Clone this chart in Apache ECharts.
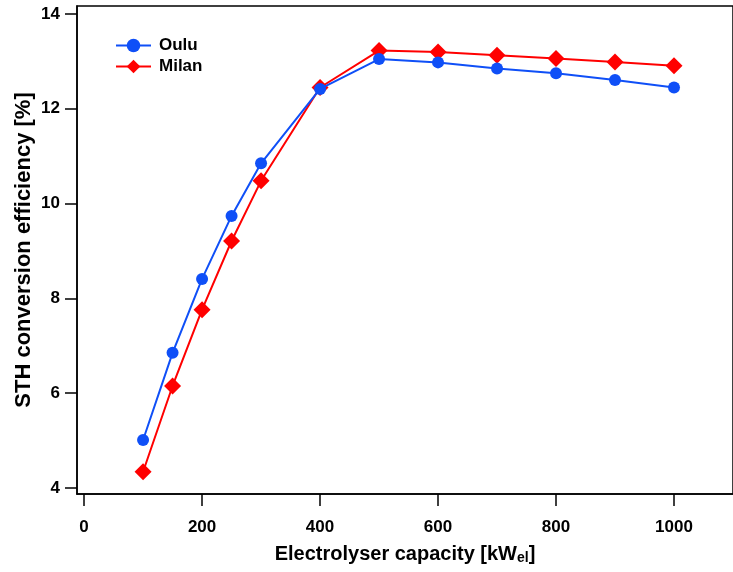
<!DOCTYPE html>
<html><head><meta charset="utf-8">
<script src="https://cdn.jsdelivr.net/npm/echarts@6/dist/echarts.min.js"></script>
<style>html,body{margin:0;padding:0;background:#fff}#c{width:733px;height:572px}</style>
</head><body><div id="c"></div>
<script>
const capacity = [100, 150, 200, 250, 300, 400, 500, 600, 700, 800, 900, 1000];
const oulu = [5.01, 6.85, 8.41, 9.74, 10.85, 12.42, 13.05, 12.98, 12.85, 12.75, 12.61, 12.45];
const milan = [4.34, 6.15, 7.76, 9.21, 10.48, 12.45, 13.23, 13.20, 13.13, 13.06, 12.99, 12.91];
const xTicks = [0, 200, 400, 600, 800, 1000];
const yTicks = [4, 6, 8, 10, 12, 14];

const font = '"Liberation Sans", Arial, sans-serif';
const chart = echarts.init(document.getElementById('c'));
chart.setOption({
  animation: false,
  grid: { left: 77, top: 6, right: -5, bottom: 78, show: true, borderColor: '#000', borderWidth: 1.5, backgroundColor: 'transparent' },
  legend: {
    left: 110, top: 32, orient: 'vertical', itemWidth: 35, itemHeight: 17, itemGap: 4,
    textStyle: { fontFamily: font, fontWeight: 'bold', fontSize: 17, color: '#000', padding: [0, 0, 0, 3] },
    data: ['Oulu', 'Milan']
  },
  xAxis: {
    type: 'value', min: -12, max: 1100,
    name: 'Electrolyser capacity [kW{sub|el}]', nameLocation: 'middle', nameGap: 49,
    nameTextStyle: { fontFamily: font, fontWeight: 'bold', fontSize: 20, color: '#000',
      rich: { sub: { fontFamily: font, fontWeight: 'bold', fontSize: 14, color: '#000', padding: [8, 0, 0, 0] } } },
    axisLine: { show: true, onZero: false, lineStyle: { color: '#000', width: 1.5 } },
    axisTick: { show: true, inside: false, length: 12, lineStyle: { color: '#000', width: 1.5 }, customValues: xTicks },
    axisLabel: { fontFamily: font, fontWeight: 'bold', fontSize: 17, color: '#000', margin: 25, customValues: xTicks, formatter: v => String(v) },
    splitLine: { show: false }
  },
  yAxis: {
    type: 'value', min: 3.87, max: 14.17,
    name: 'STH conversion efficiency [%]', nameLocation: 'middle', nameGap: 42, nameRotate: 90, nameMoveOverlap: false,
    nameTextStyle: { fontFamily: font, fontWeight: 'bold', fontSize: 22, color: '#000' },
    axisLine: { show: true, onZero: false, lineStyle: { color: '#000', width: 1.5 } },
    axisTick: { show: true, inside: false, length: 12, lineStyle: { color: '#000', width: 1.5 }, customValues: yTicks },
    axisLabel: { fontFamily: font, fontWeight: 'bold', fontSize: 17, color: '#000', margin: 17, customValues: yTicks },
    splitLine: { show: false }
  },
  series: [
    { name: 'Oulu', type: 'line', data: capacity.map((x, i) => [x, oulu[i]]),
      symbol: 'circle', symbolSize: 12, color: '#0F4FF7', lineStyle: { width: 2, color: '#0F4FF7' }, itemStyle: { color: '#0F4FF7' }, z: 3 },
    { name: 'Milan', type: 'line', data: capacity.map((x, i) => [x, milan[i]]),
      symbol: 'diamond', symbolSize: 17, color: '#FF0000', lineStyle: { width: 2, color: '#FF0000' }, itemStyle: { color: '#FF0000' }, z: 2 }
  ]
});
</script></body></html>
